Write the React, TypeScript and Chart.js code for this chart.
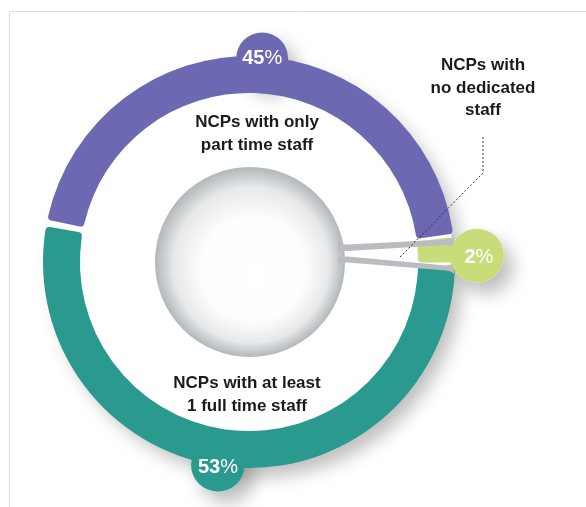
import React, { useEffect, useRef } from 'react';
import { Chart, registerables } from 'chart.js';

Chart.register(...registerables);

// ---- data ----
const categories = [
  'NCPs with only part time staff',
  'NCPs with no dedicated staff',
  'NCPs with at least 1 full time staff',
];
const shares = [45, 2, 53];
const percentLabels = ['45%', '2%', '53%'];
const labelLines = [
  ['NCPs with only', 'part time staff'],
  ['NCPs with', 'no dedicated', 'staff'],
  ['NCPs with at least', '1 full time staff'],
];
const colors = ['#6c68b2', '#c8dc7a', '#2a9a8f'];

const FONT = '"Liberation Sans", Arial, sans-serif';

function bumpGeom(chart: any) {
  const meta = chart.getDatasetMeta(0);
  const a0 = meta.data[0] as any;
  const cx = a0.x, cy = a0.y, R = a0.outerRadius, r = a0.innerRadius;
  const deg = Math.PI / 180;
  const at = (angDeg: number, dist: number) => ({
    x: cx + dist * Math.cos(angDeg * deg),
    y: cy + dist * Math.sin(angDeg * deg),
  });
  const bumps = [
    { ...at(-86.3, R), r: 26 },
    { ...at(-1.6, R + 24), r: 27 },
    { ...at(98.7, R + 1), r: 27 },
  ];
  return { cx, cy, R, r, bumps };
}

const decorPlugin = {
  id: 'decor',
  beforeDatasetsDraw(chart: any) {
    const ctx = chart.ctx as CanvasRenderingContext2D;
    const { cx, cy, R, bumps } = bumpGeom(chart);
    ctx.save();
    // frame
    ctx.strokeStyle = '#dedede';
    ctx.lineWidth = 1;
    ctx.beginPath();
    ctx.moveTo(9.5, chart.height);
    ctx.lineTo(9.5, 11.5);
    ctx.lineTo(chart.width, 11.5);
    ctx.stroke();
    // soft outer shadow (toward lower right)
    ctx.shadowColor = 'rgba(0,0,0,0.26)';
    ctx.shadowBlur = 18;
    ctx.shadowOffsetX = 9;
    ctx.shadowOffsetY = 11;
    ctx.fillStyle = '#ffffff';
    ctx.beginPath();
    ctx.arc(cx, cy, R, 0, Math.PI * 2);
    ctx.fill();
    bumps.forEach((b) => {
      ctx.beginPath();
      ctx.arc(b.x, b.y, b.r, 0, Math.PI * 2);
      ctx.fill();
    });
    ctx.restore();
  },
  afterDatasetsDraw(chart: any) {
    const ctx = chart.ctx as CanvasRenderingContext2D;
    const { cx, cy, bumps } = bumpGeom(chart);
    ctx.save();

    // inner grey sphere
    const ir = 95;
    const g = ctx.createRadialGradient(cx + 8, cy + 16, 0, cx + 1, cy, ir);
    g.addColorStop(0, '#ffffff');
    g.addColorStop(0.55, '#fdfdfd');
    g.addColorStop(0.82, '#e6e8e9');
    g.addColorStop(1, '#b2b7bb');
    ctx.fillStyle = g;
    ctx.beginPath();
    ctx.arc(cx + 1, cy, ir, 0, Math.PI * 2);
    ctx.fill();

    // connectors to the small slice
    const gb = bumps[1];
    const x0 = cx + ir - 6;
    const x1 = gb.x - gb.r + 4;
    ctx.fillStyle = '#b9bdc1';
    const prong = (lt: number, lb: number, rt: number, rb: number, flareUp: boolean) => {
      ctx.beginPath();
      ctx.moveTo(x0, cy + lt - (flareUp ? 4 : 0));
      ctx.quadraticCurveTo(x0 + 3, cy + lt, x0 + 10, cy + lt - 0.6);
      ctx.lineTo(x1 - 8, cy + rt + 0.5);
      ctx.quadraticCurveTo(x1 - 2, cy + rt, x1, cy + rt - 3);
      ctx.lineTo(x1, cy + rb + 3);
      ctx.quadraticCurveTo(x1 - 2, cy + rb, x1 - 8, cy + rb - 0.5);
      ctx.lineTo(x0 + 10, cy + lb + 0.6);
      ctx.quadraticCurveTo(x0 + 3, cy + lb, x0, cy + lb + (flareUp ? 0 : 4));
      ctx.closePath();
      ctx.fill();
    };
    prong(-17, -11.5, -23, -16.5, true);
    prong(-5, 0, 3, 9, false);

    // bumps
    bumps.forEach((b, i) => {
      ctx.fillStyle = colors[i];
      ctx.beginPath();
      ctx.arc(b.x, b.y, b.r, 0, Math.PI * 2);
      ctx.fill();
    });

    // percentages
    const textOff = [[0, 0], [2, 2], [0, 3]];
    percentLabels.forEach((lab, i) => {
      const b = bumps[i];
      const num = lab.replace('%', '');
      ctx.font = `bold 20px ${FONT}`;
      const wn = ctx.measureText(num).width;
      ctx.font = `normal 20px ${FONT}`;
      const wp = ctx.measureText('%').width;
      const x = b.x + textOff[i][0] - (wn + wp) / 2;
      const y = b.y + textOff[i][1];
      ctx.fillStyle = '#ffffff';
      ctx.textBaseline = 'middle';
      ctx.textAlign = 'left';
      ctx.font = `bold 20px ${FONT}`;
      ctx.fillText(num, x, y);
      ctx.font = `normal 20px ${FONT}`;
      ctx.fillText('%', x + wn, y);
    });

    // category labels
    ctx.fillStyle = '#1b1b1b';
    ctx.textAlign = 'center';
    ctx.textBaseline = 'alphabetic';
    ctx.font = `bold 17px ${FONT}`;
    const anchors = [
      { x: cx + 8, y: cy - 135 },
      { x: cx + 234, y: cy - 192 },
      { x: cx - 2, y: cy + 126 },
    ];
    labelLines.forEach((lines, i) => {
      lines.forEach((t, k) => {
        ctx.fillText(t, anchors[i].x, anchors[i].y + k * 22.5);
      });
    });

    // dotted leader
    ctx.strokeStyle = '#333333';
    ctx.lineWidth = 1;
    ctx.setLineDash([2, 2]);
    ctx.beginPath();
    ctx.moveTo(cx + 151, cy - 5);
    ctx.lineTo(cx + 234, cy - 89);
    ctx.lineTo(cx + 234, cy - 125);
    ctx.stroke();
    ctx.restore();
  },
};

export default function App() {
  const ref = useRef<HTMLCanvasElement | null>(null);
  useEffect(() => {
    if (!ref.current) return;
    const chart = new Chart(ref.current, {
      type: 'doughnut',
      data: {
        labels: categories,
        datasets: [
          {
            data: shares,
            backgroundColor: colors,
            borderWidth: 0,
            borderRadius: 4,
          },
        ],
      },
      options: {
        responsive: false,
        animation: false,
        devicePixelRatio: 1,
        rotation: -79,
        radius: 204,
        cutout: '81.9%',
        spacing: 4,
        layout: { padding: { left: 45, right: 133, top: 58, bottom: 41 } },
        plugins: {
          legend: { display: false },
          tooltip: { enabled: false },
        },
      } as any,
      plugins: [decorPlugin],
    });
    return () => chart.destroy();
  }, []);
  return (
    <div style={{ position: 'fixed', left: 0, top: 0, width: 586, height: 507, background: '#fff' }}>
      <canvas ref={ref} width={586} height={507} style={{ display: 'block' }} />
    </div>
  );
}
